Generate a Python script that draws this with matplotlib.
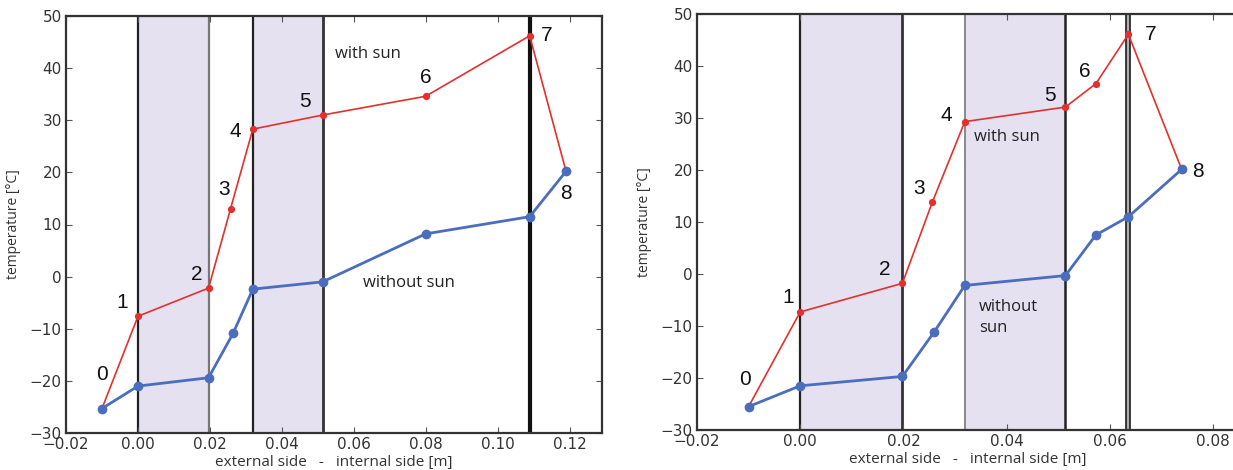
import matplotlib
matplotlib.use("Agg")
import matplotlib.pyplot as plt

# ---------------- data ----------------
point_labels = ["0", "1", "2", "3", "4", "5", "6", "7", "8"]

# left panel
left_x = [-0.01, 0.0, 0.0196, 0.0257, 0.0319, 0.0513, 0.0799, 0.1088, 0.1189]
left_x_blue = [-0.01, 0.0, 0.0196, 0.0264, 0.0319, 0.0513, 0.0799, 0.1088, 0.1189]
left_sun = [-25.3, -7.6, -2.2, 13.0, 28.3, 31.0, 34.6, 46.2, 20.2]
left_nosun = [-25.3, -21.0, -19.4, -10.9, -2.4, -1.0, 8.2, 11.5, 20.2]
left_bands = [(0.0, 0.0196), (0.0319, 0.0513)]
left_walls = [0.0, 0.0196, 0.0319, 0.0513, 0.1088]

# right panel
right_x = [-0.01, 0.0, 0.0198, 0.0256, 0.0319, 0.0514, 0.0573, 0.0636, 0.0739]
right_x_blue = [-0.01, 0.0, 0.0198, 0.0260, 0.0319, 0.0514, 0.0573, 0.0636, 0.0739]
right_sun = [-25.5, -7.3, -1.8, 13.8, 29.3, 32.1, 36.6, 46.1, 20.2]
right_nosun = [-25.5, -21.5, -19.7, -11.1, -2.2, -0.3, 7.5, 11.0, 20.1]
right_bands = [(0.0, 0.0198), (0.0319, 0.0514)]
right_walls = [0.0, 0.0198, 0.0319, 0.0514, 0.0636]

y_ticks = [-30, -20, -10, 0, 10, 20, 30, 40, 50]
left_xticks = [-0.02, 0.0, 0.02, 0.04, 0.06, 0.08, 0.10, 0.12]
right_xticks = [-0.02, 0.0, 0.02, 0.04, 0.06, 0.08]

# ---------------- layout / style ----------------
W, H = 1233, 470
RED = "#e2302e"
BLUE = "#4a6dbd"
BAND = "#e5e1f1"

left_offsets = [(0, 34), (-16, 14), (-12, 14), (-6, 19), (-18, -2),
                (-18, 14), (0, 19), (17, 0), (0, -22)]
right_offsets = [(-4, 27), (-12, 14), (-18, 14), (-13, 14), (-18, 6),
                 (-15, 12), (-11, 12), (22, 0), (16, -3)]

# (color, linewidth, inner highlight color or None)
left_wall_style = [("#222222", 1.6, None), ("#777777", 1.6, None),
                   ("#222222", 1.6, None), ("#333333", 2.0, None),
                   ("#111111", 3.0, None)]
right_wall_style = [("#222222", 1.6, None), ("#333333", 2.0, None),
                    ("#777777", 1.2, None), ("#222222", 1.8, None),
                    ("#333333", 4.2, "#b0b0b0")]

fig = plt.figure(figsize=(W / 100, H / 100), dpi=100)


def px_axes(l, r, t, b):
    return fig.add_axes([l / W, (H - b) / H, (r - l) / W, (b - t) / H])


def draw(ax, xs, xb, sun, nosun, bands, walls, wall_style, offsets, xlim, xticks):
    for a, b in bands:
        ax.axvspan(a, b, color=BAND, zorder=0, lw=0)
    for w, (c, lw, inner) in zip(walls, wall_style):
        ax.axvline(w, color=c, lw=lw, zorder=1)
        if inner:
            ax.axvline(w, color=inner, lw=lw * 0.35, zorder=1.1)
    ax.plot(xs, sun, "-o", color=RED, lw=1.2, ms=4.2, zorder=3)
    ax.plot(xb, nosun, "-o", color=BLUE, lw=2.0, ms=6, zorder=4)
    for i, lab in enumerate(point_labels):
        ax.annotate(lab, xy=(xs[i], sun[i]), xytext=offsets[i],
                    textcoords="offset pixels", ha="center", va="center",
                    fontsize=15, family="Liberation Sans", color="#111111")
    ax.set_xlim(*xlim)
    ax.set_ylim(-30, 50)
    ax.set_xticks(xticks)
    ax.set_yticks(y_ticks)
    ax.tick_params(direction="in", top=True, right=True, length=4,
                   labelsize=11, labelcolor="#333333", color="#555555", pad=3)
    for s in ax.spines.values():
        s.set_linewidth(1.6)
        s.set_color("#333333")
    ax.set_xlabel("external side   -   internal side [m]", family="Open Sans",
                  fontsize=11, color="#333333", labelpad=2)
    ax.set_ylabel("temperature [°C]", family="Open Sans", fontsize=10,
                  color="#333333", labelpad=6)


ax1 = px_axes(66, 602.4, 16, 433)
draw(ax1, left_x, left_x_blue, left_sun, left_nosun, left_bands, left_walls,
     left_wall_style, left_offsets, (-0.02, 0.129), left_xticks)
ax1.text(0.0638, 42.8, "with sun", family="Open Sans", fontsize=12,
         ha="center", va="center", color="#222222")
ax1.text(0.0753, -1.3, "without sun", family="Open Sans", fontsize=12,
         ha="center", va="center", color="#222222")

ax2 = px_axes(697, 697 + 0.105 * 5160, 14, 430)
draw(ax2, right_x, right_x_blue, right_sun, right_nosun, right_bands, right_walls,
     right_wall_style, right_offsets, (-0.02, 0.085), right_xticks)
ax2.text(0.0401, 26.4, "with sun", family="Open Sans", fontsize=12,
         ha="center", va="center", color="#222222")
ax2.text(0.0347, -8.4, "without\nsun", family="Open Sans", fontsize=12,
         ha="left", va="center", color="#222222", linespacing=1.4)

fig.savefig("out.png", dpi=100)
